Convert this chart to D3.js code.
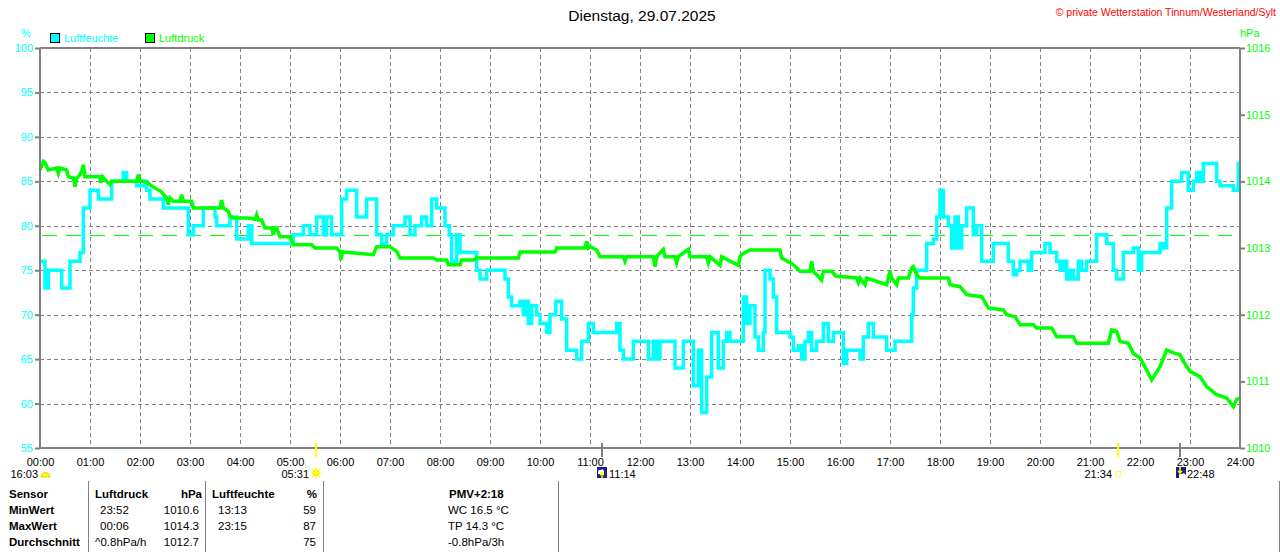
<!DOCTYPE html>
<html><head><meta charset="utf-8">
<script src="https://cdn.jsdelivr.net/npm/d3@7"></script>
<style>
html,body{margin:0;padding:0;background:#fff;}
svg{display:block;font-family:"Liberation Sans",Arial,sans-serif;}
</style></head><body>
<svg id="c" width="1280" height="552"></svg>
<script>
// ---- data ----
const title = "Dienstag, 29.07.2025";
const copyright = "\u00A9 private Wetterstation Tinnum/Westerland/Sylt";
const hourLabels = ["00:00","01:00","02:00","03:00","04:00","05:00","06:00","07:00","08:00","09:00","10:00","11:00","12:00","13:00","14:00","15:00","16:00","17:00","18:00","19:00","20:00","21:00","22:00","23:00","24:00"];
const humTicks = [55,60,65,70,75,80,85,90,95,100];
const presTicks = [1010,1011,1012,1013,1014,1015,1016];
const refPressure = 1013.2;

// humidity (%) : minutes since 00:00 / value
const humMin = [0,4,6,10,18,26,36,46,48,52,60,68,70,82,86,98,100,104,116,126,128,132,148,172,178,184,188,196,206,210,212,224,228,236,250,254,268,300,304,316,324,332,340,344,350,362,368,376,380,386,392,398,404,410,416,424,436,438,444,450,454,458,464,470,474,476,480,486,491,494,500,504,520,524,528,536,556,558,562,566,572,576,580,583,586,590,596,600,608,612,619,626,632,636,644,650,658,664,688,692,696,700,708,712,728,730,736,740,744,760,762,772,784,790,794,800,806,814,820,824,828,840,844,848,852,858,862,868,870,876,880,884,900,904,910,914,918,922,926,932,940,946,952,958,964,968,976,984,988,994,1000,1012,1016,1024,1026,1044,1046,1048,1052,1060,1064,1072,1076,1080,1084,1090,1094,1098,1102,1106,1112,1116,1120,1124,1130,1136,1144,1158,1162,1168,1172,1176,1182,1186,1190,1200,1206,1212,1220,1224,1228,1232,1236,1240,1246,1250,1256,1260,1268,1274,1280,1288,1292,1296,1300,1312,1318,1322,1340,1344,1348,1352,1358,1364,1370,1374,1378,1384,1388,1392,1396,1408,1412,1416,1428,1432,1438,1440];
const humVal = [76,76,73,75,75,73,76,76,77,82,84,84,83,83,85,85,86,85,84.5,85,84,83,82,82,79,80,80,82,82,81,80,80,81,78.5,80,78,78,78,79,80,79,81,79,81,79,83,84,84,81,81,83,83,79,78,79,80,80,81,79,80,80,81,80,83,83,82,82,80,79,76,79,77,77,75,74,75,75,74,72,71,71,71.5,70,71.5,69,71,70,69,68,70,71.5,69.5,66,66,65,67,69,68,68,69,66,65,65,67,67,65,67,65,67,67,64,67,62,66,59,63,68,64,67,68,67,67,72,69,71,67.5,66,68,75,74,72,68,67.5,66,66.5,65,67,68,66,67,69,67,68,68,64.5,66,66,65,67.5,69,67.5,67.5,66,66,67,67,70,73,75,75,78,78.5,81,84,81,80,77.5,81,77.5,80,82,82,79,80,76,76,78,78,76,74.5,75,76,76,75,77,77,78,77,76,75,76,74,75,74,76,75,76,76,79,79,78,75,74,74,77,77.5,75,77,77,78,77.5,82,85,85,86,86,84,85,86,85,87,87,85,84.5,84.5,84,87,87];

// pressure (hPa) : [minutes since 00:00, value]
const pressure = [
 [0,1014.17],[4,1014.3],[6,1014.28],[10,1014.17],[20,1014.2],[22,1014.12],[24,1014.2],[32,1014.17],[34,1014.07],[40,1014.05],[42,1013.92],[44,1014.05],[48,1014.1],[50,1014.15],[52,1014.25],[54,1014.07],
 [72,1014.07],[73,1013.98],[75,1014.07],[80,1014.0],[84,1013.95],[86,1014.0],[116,1014.0],[118,1014.1],[120,1014.0],[124,1014.0],[130,1013.97],[135,1013.92],
 [145,1013.85],[152,1013.75],[154,1013.65],[156,1013.75],[160,1013.7],[168,1013.7],[170,1013.8],[172,1013.7],[182,1013.7],[184,1013.6],
 [216,1013.6],[218,1013.72],[220,1013.6],[226,1013.55],[228,1013.48],[232,1013.45],[250,1013.45],[258,1013.43],[260,1013.5],[262,1013.42],[266,1013.42],[270,1013.3],[278,1013.3],[280,1013.2],[282,1013.3],[284,1013.3],[288,1013.17],
 [300,1013.17],[304,1013.05],[326,1013.05],[330,1013.0],[356,1013.0],[360,1012.94],[361,1012.82],[363,1012.94],[400,1012.9],[404,1013.02],[420,1013.02],[428,1012.95],[432,1012.85],
 [472,1012.85],[476,1012.82],[488,1012.82],[490,1012.75],[504,1012.75],[506,1012.82],[520,1012.82],[524,1012.85],[574,1012.85],[576,1012.94],
 [618,1012.94],[620,1013.0],[654,1013.0],[656,1013.1],[658,1013.0],[660,1013.02],[668,1012.97],[672,1012.87],
 [700,1012.87],[702,1012.8],[704,1012.87],[736,1012.87],[738,1012.72],[740,1012.87],[748,1012.98],[750,1012.87],[762,1012.87],[764,1012.78],[766,1012.87],[778,1012.98],[780,1012.87],
 [800,1012.87],[802,1012.78],[804,1012.87],[816,1012.74],[818,1012.87],[838,1012.74],[840,1012.87],[844,1012.92],[852,1012.97],[888,1012.97],[890,1012.85],
 [902,1012.77],[908,1012.7],[912,1012.65],[924,1012.65],[926,1012.8],[928,1012.65],[938,1012.52],[940,1012.65],[950,1012.65],[955,1012.58],
 [980,1012.55],[982,1012.48],[984,1012.55],[990,1012.45],[992,1012.55],[1016,1012.45],[1018,1012.55],[1020,1012.66],[1022,1012.55],[1028,1012.45],[1030,1012.55],
 [1042,1012.55],[1046,1012.7],[1048,1012.72],[1052,1012.6],[1056,1012.55],[1090,1012.55],[1092,1012.45],[1104,1012.42],[1112,1012.3],[1130,1012.27],[1138,1012.1],
 [1156,1012.07],[1160,1012.0],[1170,1011.97],[1176,1011.85],[1192,1011.85],[1196,1011.8],[1214,1011.8],[1220,1011.67],[1240,1011.67],[1244,1011.57],
 [1282,1011.57],[1286,1011.77],[1292,1011.75],[1296,1011.6],[1306,1011.57],[1312,1011.42],[1320,1011.35],[1328,1011.17],[1334,1011.02],[1344,1011.22],[1352,1011.47],
 [1356,1011.45],[1362,1011.42],[1368,1011.4],[1372,1011.3],[1380,1011.15],[1392,1011.07],[1400,1010.92],[1412,1010.8],[1424,1010.75],[1432,1010.62],[1436,1010.73],[1440,1010.75]
];

// astro markers
const astroTimes = [331, 674, 1294, 1368];          // 05:31, 11:14, 21:34, 22:48
const astroLabels = ["05:31","11:14","21:34","22:48"];
const dayLength = "16:03";

// table
const tableHeader = ["Sensor","Luftdruck","hPa","Luftfeuchte","%","PMV+2:18"];
const rowLabels = ["MinWert","MaxWert","Durchschnitt"];
const presTimeCol = ["23:52","00:06","^0.8hPa/h"];
const presValCol = ["1010.6","1014.3","1012.7"];
const humTimeCol = ["13:13","23:15",""];
const humValCol = ["59","87","75"];
const pmvCol = ["WC 16.5 \u00B0C","TP 14.3 \u00B0C","-0.8hPa/3h"];

// ---- drawing ----
const svg = d3.select("#c");
const CY = "#00ffff", GR = "#00ff00", GRAY = "#808080";
const L = 40, R = 1240, T = 48, B = 448;
const x = d3.scaleLinear().domain([0,1440]).range([L,R]);
const yH = d3.scaleLinear().domain([55,100]).range([B,T]);
const yP = d3.scaleLinear().domain([1010,1016]).range([B,T]);

// title & copyright
svg.append("text").attr("x",642).attr("y",21).attr("text-anchor","middle")
  .attr("font-size",15.5).attr("fill","#000").text(title);
svg.append("text").attr("x",1276).attr("y",16).attr("text-anchor","end")
  .attr("font-size",10.5).attr("fill","#ff0000").text(copyright);

// unit labels
svg.append("text").attr("x",26).attr("y",37).attr("text-anchor","middle").attr("font-size",11).attr("fill",CY).text("%");
svg.append("text").attr("x",1240).attr("y",37).attr("font-size",11).attr("fill",GR).text("hPa");

// legend
const leg = [{n:"Luftfeuchte",c:CY,x:50},{n:"Luftdruck",c:GR,x:145}];
leg.forEach(d=>{
  svg.append("rect").attr("x",d.x+0.5).attr("y",33.5).attr("width",9).attr("height",9)
    .attr("fill",d.c).attr("stroke","#000").attr("stroke-width",1);
  svg.append("text").attr("x",d.x+14).attr("y",42).attr("font-size",11).attr("fill",d.c).text(d.n);
});

// grid
const grid = svg.append("g").attr("stroke",GRAY).attr("stroke-width",1).attr("stroke-dasharray","4,3");
humTicks.filter(v=>v>55&&v<100).forEach(v=>{
  grid.append("line").attr("x1",L).attr("x2",R).attr("y1",Math.round(yH(v))+0.5).attr("y2",Math.round(yH(v))+0.5);
});
d3.range(60,1440,60).forEach(m=>{
  grid.append("line").attr("x1",Math.round(x(m))+0.5).attr("x2",Math.round(x(m))+0.5).attr("y1",T).attr("y2",B);
});

// reference pressure line
svg.append("line").attr("x1",L+2).attr("x2",R-8).attr("y1",Math.round(yP(refPressure))+0.5).attr("y2",Math.round(yP(refPressure))+0.5)
  .attr("stroke",GR).attr("stroke-width",1).attr("stroke-dasharray","15,9");

// data lines
const humData = humMin.map((m,i)=>[m,humVal[i]]);
svg.append("path").datum(humData).attr("fill","none").attr("stroke",CY).attr("stroke-width",3.5)
  .attr("stroke-linejoin","miter").attr("d",d3.line().x(d=>x(d[0])).y(d=>yH(d[1])).curve(d3.curveStepAfter));
svg.append("path").datum(pressure).attr("fill","none").attr("stroke",GR).attr("stroke-width",3.5)
  .attr("stroke-linejoin","miter").attr("d",d3.line().x(d=>x(d[0])).y(d=>yP(d[1])).curve(d3.curveLinear));

// top border
svg.append("line").attr("x1",L).attr("x2",R).attr("y1",T).attr("y2",T).attr("stroke",GRAY).attr("stroke-width",2);

// left axis
const ax = svg.append("g").attr("transform",`translate(${L},0)`)
  .call(d3.axisLeft(yH).tickValues(humTicks).tickSize(5).tickPadding(2).tickFormat(d3.format("d")));
ax.select(".domain").attr("stroke",GRAY).attr("stroke-width",2).attr("d",`M0,${T}V${B}`);
ax.selectAll(".tick line").attr("stroke",GRAY).attr("stroke-width",2);
ax.selectAll(".tick text").attr("fill",CY).attr("font-size",11).attr("font-family","Liberation Sans, Arial");

// right axis
const ar = svg.append("g").attr("transform",`translate(${R},0)`)
  .call(d3.axisRight(yP).tickValues(presTicks).tickSize(5).tickPadding(1).tickFormat(d3.format("d")));
ar.select(".domain").attr("stroke",GRAY).attr("stroke-width",2).attr("d",`M0,${T}V${B}`);
ar.selectAll(".tick line").attr("stroke",GRAY).attr("stroke-width",2);
ar.selectAll(".tick text").attr("fill",GR).attr("font-size",11).attr("font-family","Liberation Sans, Arial");

// bottom axis
const ab = svg.append("g").attr("transform",`translate(0,${B})`)
  .call(d3.axisBottom(x).tickValues(d3.range(0,1441,60)).tickSize(0).tickPadding(10)
    .tickFormat((d,i)=>hourLabels[i]));
ab.select(".domain").attr("stroke",GRAY).attr("stroke-width",2).attr("d",`M${L-1},0H${R+1}`);
ab.selectAll(".tick text").attr("fill","#000").attr("font-size",11).attr("font-family","Liberation Sans, Arial");

// astro markers
const astroColor = ["#ffff00",GRAY,"#ffff00",GRAY];
astroTimes.forEach((m,i)=>{
  const px = Math.round(x(m));
  svg.append("line").attr("x1",px).attr("x2",px).attr("y1",B-5).attr("y2",B+9)
    .attr("stroke",astroColor[i]).attr("stroke-width",2);
});
const y2 = 478;
svg.append("text").attr("x",38).attr("y",y2).attr("text-anchor","end").attr("font-size",11).text(dayLength);
// half-sun icon at day length
svg.append("path").attr("d","M41,477 A4.5,4.5 0 0 1 50,477 Z").attr("fill","#ffff00").attr("stroke","#e0c000").attr("stroke-width",0.8);
// sunrise
{
  const px = Math.round(x(astroTimes[0]));
  svg.append("text").attr("x",px-7).attr("y",y2).attr("text-anchor","end").attr("font-size",11).text(astroLabels[0]);
  const g = svg.append("g").attr("transform",`translate(${px},473)`);
  d3.range(8).forEach(k=>{const a=k*Math.PI/4;
    g.append("line").attr("x1",Math.cos(a)*4).attr("y1",Math.sin(a)*4).attr("x2",Math.cos(a)*6).attr("y2",Math.sin(a)*6)
     .attr("stroke","#ffff00").attr("stroke-width",1.2);});
  g.append("circle").attr("r",3.2).attr("fill","#ffff00").attr("stroke","#f0d000").attr("stroke-width",0.6);
}
// moon icons
function moonIcon(px, up){
  const g = svg.append("g").attr("transform",`translate(${px},467)`);
  g.append("rect").attr("x",0).attr("y",0).attr("width",10).attr("height",11).attr("fill","#202080");
  g.append("path").attr("d", up ? "M1,6 Q1,2 4,3 Q6,1 7,4 L7,7 L1,7 Z" : "M3,8 Q3,6 6,7 Q8,5 10,8 L10,11 L3,11 Z").attr("fill","#fff");
  g.append("path").attr("d", up ? "M5,11 L5,6 L3,8 M5,6 L7,8" : "M4,0 L4,6 L2,4 M4,6 L6,4").attr("stroke","#ffff00").attr("stroke-width",1.5).attr("fill","none");
}
{
  const px = Math.round(x(astroTimes[1]));
  moonIcon(px-5,true);
  svg.append("text").attr("x",px+7).attr("y",y2).attr("font-size",11).text(astroLabels[1]);
}
{
  const px = Math.round(x(astroTimes[2]));
  svg.append("text").attr("x",px-6).attr("y",y2).attr("text-anchor","end").attr("font-size",11).text(astroLabels[2]);
  svg.append("rect").attr("x",px-2.5).attr("y",471.5).attr("width",5).attr("height",5).attr("fill","none").attr("stroke","#ffff40").attr("stroke-width",1);
}
{
  const px = Math.round(x(astroTimes[3]));
  moonIcon(px-4,false);
  svg.append("text").attr("x",px+7).attr("y",y2).attr("font-size",11).text(astroLabels[3]);
}

// table
const sepX = [88.5,205.5,323.5,558.5,1279.5];
sepX.forEach(sx=>svg.append("line").attr("x1",sx).attr("x2",sx).attr("y1",481).attr("y2",552).attr("stroke",GRAY).attr("stroke-width",1));
const rowY = [498,514,530,546];
const fs = 11.5;
function txt(xp,yp,s,bold,anchor){
  svg.append("text").attr("x",xp).attr("y",yp).attr("font-size",fs).attr("font-weight",bold?"bold":"normal")
    .attr("text-anchor",anchor||"start").attr("fill","#000").text(s);
}
txt(9,rowY[0],tableHeader[0],true);
txt(95,rowY[0],tableHeader[1],true);
txt(202,rowY[0],tableHeader[2],true,"end");
txt(212,rowY[0],tableHeader[3],true);
txt(317,rowY[0],tableHeader[4],true,"end");
txt(449,rowY[0],tableHeader[5],true);
rowLabels.forEach((r,i)=>{
  const yy = rowY[i+1];
  txt(9,yy,r,true);
  txt(i<2?100:95,yy,presTimeCol[i]);
  txt(199,yy,presValCol[i],false,"end");
  txt(218,yy,humTimeCol[i]);
  txt(316,yy,humValCol[i],false,"end");
  txt(448,yy,pmvCol[i]);
});
</script>
</body></html>
